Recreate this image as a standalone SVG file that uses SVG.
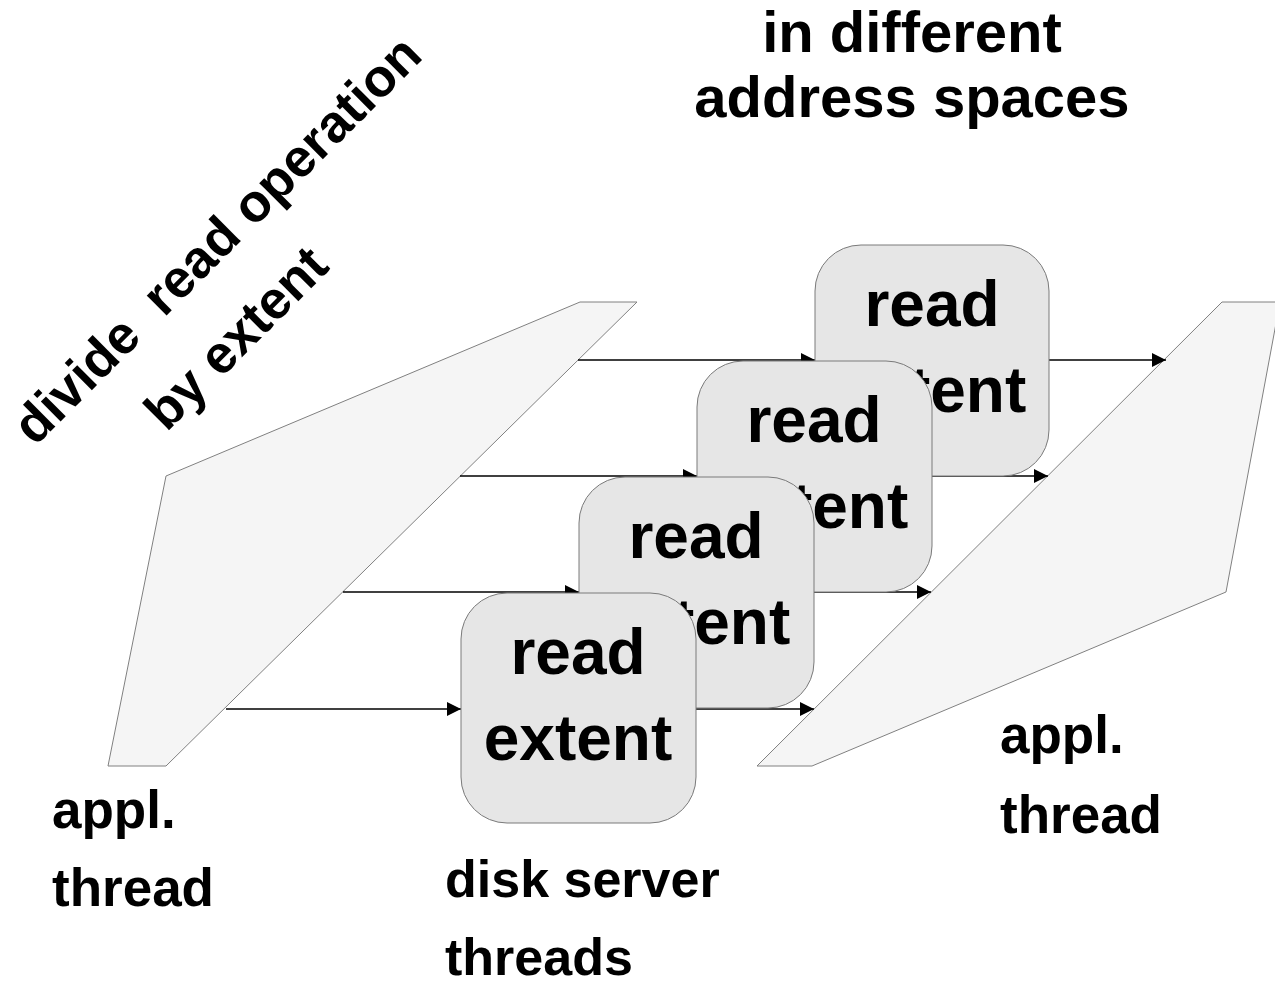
<svg xmlns="http://www.w3.org/2000/svg" width="1275" height="986" viewBox="0 0 1275 986">
  <style>
    .lbl { font-family: "Liberation Sans", Arial, sans-serif; font-weight: bold; fill: #000; }
    .plane { fill: #f5f5f5; stroke: #808080; stroke-width: 1; }
    .task { fill: #e6e6e6; stroke: #7a7a7a; stroke-width: 1; }
    .flow { stroke: #000; stroke-width: 1.3; fill: none; marker-end: url(#head); }
  </style>
  <defs>
    <marker id="head" viewBox="0 0 14 14" refX="14" refY="7" markerWidth="14" markerHeight="14" markerUnits="userSpaceOnUse" orient="auto">
      <path d="M0,0 L14,7 L0,14 Z" fill="#000"/>
    </marker>
  </defs>

  <rect width="1275" height="986" fill="#fff"/>

  <!-- headings -->
  <g id="title">
    <text class="lbl" x="912" y="52" font-size="58" text-anchor="middle">in different</text>
    <text class="lbl" x="912" y="117" font-size="58" text-anchor="middle">address spaces</text>
  </g>
  <g id="divide-note" transform="translate(35,447) rotate(-45)">
    <text class="lbl" x="0" y="0" font-size="53" xml:space="preserve">divide  read operation</text>
    <text class="lbl" x="103" y="83" font-size="53">by extent</text>
  </g>

  <!-- application thread planes -->
  <g id="appl-left">
    <polygon class="plane" points="108,766 166,476 580,302 637,302 166,766"/>
    <text class="lbl" x="52" y="828" font-size="53">appl.</text>
    <text class="lbl" x="52" y="906" font-size="53">thread</text>
  </g>
  <g id="appl-right">
    <polygon class="plane" points="757,766 1222,302 1280,302 1226,592 812,766"/>
    <text class="lbl" x="1000" y="753" font-size="53">appl.</text>
    <text class="lbl" x="1000" y="833" font-size="53">thread</text>
  </g>

  <!-- connectors: left plane to readers, readers to right plane -->
  <g id="connectors">
    <line class="flow" x1="578" y1="360" x2="815" y2="360"/>
    <line class="flow" x1="1049" y1="360" x2="1166" y2="360"/>
    <line class="flow" x1="460" y1="476" x2="697" y2="476"/>
    <line class="flow" x1="932" y1="476" x2="1048" y2="476"/>
    <line class="flow" x1="343" y1="592" x2="579" y2="592"/>
    <line class="flow" x1="814" y1="592" x2="931" y2="592"/>
    <line class="flow" x1="226" y1="709" x2="461" y2="709"/>
    <line class="flow" x1="696" y1="709" x2="814" y2="709"/>
  </g>

  <!-- disk server reader tasks, back to front -->
  <g id="reader-4">
    <rect class="task" x="815" y="245" width="234" height="231" rx="46" ry="46"/>
    <text class="lbl" x="932" y="326" font-size="64" text-anchor="middle">read</text>
    <text class="lbl" x="932" y="412" font-size="64" text-anchor="middle">extent</text>
  </g>
  <g id="reader-3">
    <rect class="task" x="697" y="361" width="235" height="231" rx="46" ry="46"/>
    <text class="lbl" x="814" y="442" font-size="64" text-anchor="middle">read</text>
    <text class="lbl" x="814" y="528" font-size="64" text-anchor="middle">extent</text>
  </g>
  <g id="reader-2">
    <rect class="task" x="579" y="477" width="235" height="231" rx="46" ry="46"/>
    <text class="lbl" x="696" y="558" font-size="64" text-anchor="middle">read</text>
    <text class="lbl" x="696" y="644" font-size="64" text-anchor="middle">extent</text>
  </g>
  <g id="reader-1">
    <rect class="task" x="461" y="593" width="235" height="230" rx="46" ry="46"/>
    <text class="lbl" x="578" y="674" font-size="64" text-anchor="middle">read</text>
    <text class="lbl" x="578" y="760" font-size="64" text-anchor="middle">extent</text>
  </g>

  <g id="servers-label">
    <text class="lbl" x="445" y="897" font-size="52">disk server</text>
    <text class="lbl" x="445" y="975" font-size="52">threads</text>
  </g>
</svg>
